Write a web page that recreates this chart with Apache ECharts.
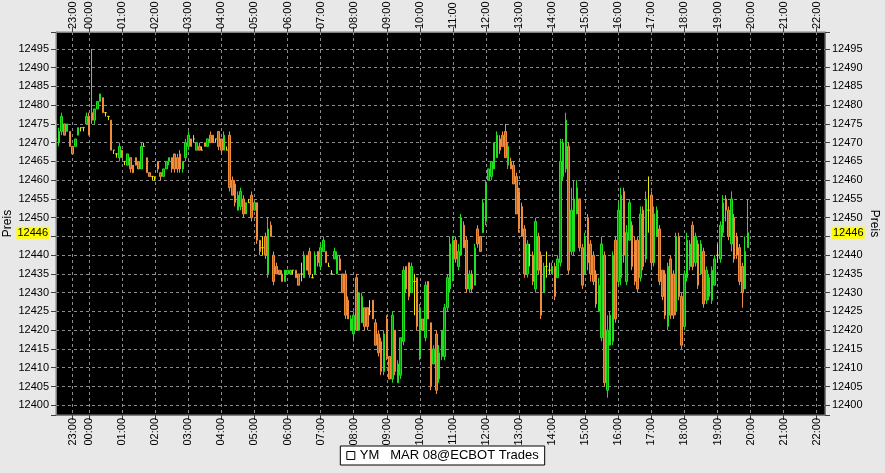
<!DOCTYPE html>
<html><head><meta charset="utf-8">
<script src="https://cdn.jsdelivr.net/npm/echarts@6/dist/echarts.min.js"></script>
<style>html,body{margin:0;padding:0;background:#e8e8e8}#c{width:885px;height:473px}</style>
</head><body><div id="c"></div>
<script>
const seriesName = 'YM   MAR 08@ECBOT Trades';
const axisName = 'Preis';
const lastPrice = 12446;
const hiddenTick = 12445;
const leadTimes = ['22:30','22:35','22:40','22:45','22:50','22:55','23:00'];
const gapTimes = ['23:10','23:20','23:30','23:40','23:50'];
const dayStart = '00:00', dayEnd = '22:15', stepMin = 5;

const opens = [
12471,12470,12473,12475,12473,12473,12469,12469,12472,12474,
12474,12475,12477,12478,12476,12479,12481,12482,12478,12477,
12476,12468,12467,12466,12468,12465,12464,12466,12464,12466,
12465,12463,12469,12466,12462,12461,12460,12465,12462,12461,
12463,12465,12466,12467,12466,12467,12463,12466,12469,12471,
12471,12468,12469,12468,12470,12469,12472,12472,12471,12473,
12471,12468,12468,12472,12460,12459,12452,12453,12455,12451,
12454,12456,12452,12454,12444,12442,12445,12435,12448,12440,
12437,12436,12435,12433,12435,12435,12436,12436,12435,12435,
12434,12440,12441,12434,12435,12441,12437,12441,12441,12437,
12435,12439,12435,12439,12435,12435,12428,12420,12419,12434,
12420,12422,12426,12426,12425,12428,12422,12419,12417,12409,
12423,12413,12407,12420,12406,12408,12417,12437,12438,12430,
12433,12434,12413,12423,12418,12433,12422,12411,12419,12407,
12413,12413,12426,12431,12434,12444,12437,12440,12448,12444,
12431,12435,12432,12447,12445,12446,12449,12460,12461,12463,
12466,12471,12472,12473,12464,12465,12464,12461,12457,12453,
12447,12435,12440,12440,12431,12445,12440,12430,12437,12436,
12435,12437,12434,12438,12461,12463,12469,12441,12441,12451,
12455,12442,12435,12450,12443,12440,12435,12425,12418,12440,
12404,12416,12417,12444,12433,12434,12457,12433,12444,12448,
12444,12444,12434,12452,12439,12452,12456,12438,12445,12447,
12436,12435,12421,12439,12435,12425,12445,12429,12421,12434,
12437,12448,12438,12443,12435,12441,12428,12429,12428,12432,
12440,12439,12446,12455,12452,12443,12450,12445,12442,12437,
12431,12442];
const closes = [
12471,12473,12477,12472,12475,12469,12467,12471,12474,12474,
12474,12477,12472,12476,12479,12481,12483,12478,12478,12477,
12468,12468,12467,12469,12466,12465,12467,12463,12462,12464,
12463,12469,12469,12462,12461,12461,12460,12463,12461,12463,
12465,12466,12463,12463,12463,12463,12465,12470,12472,12469,
12471,12470,12468,12468,12469,12471,12470,12470,12471,12469,
12468,12472,12468,12458,12456,12454,12456,12457,12451,12454,
12454,12450,12454,12444,12441,12442,12440,12447,12445,12433,
12435,12435,12433,12436,12436,12436,12436,12434,12432,12435,
12440,12436,12435,12434,12440,12438,12442,12444,12438,12437,
12435,12441,12440,12436,12430,12424,12423,12423,12424,12420,
12430,12429,12421,12421,12425,12423,12416,12414,12409,12419,
12413,12407,12424,12409,12411,12418,12436,12431,12429,12437,
12433,12421,12426,12420,12432,12423,12405,12415,12404,12414,
12420,12426,12434,12443,12444,12439,12441,12450,12442,12431,
12435,12431,12442,12443,12441,12454,12459,12463,12465,12470,
12472,12468,12469,12466,12469,12463,12459,12451,12447,12445,
12435,12443,12440,12433,12449,12436,12424,12437,12437,12436,
12437,12429,12439,12465,12470,12476,12436,12452,12455,12458,
12442,12432,12445,12438,12435,12433,12427,12432,12443,12406,
12420,12424,12440,12423,12452,12456,12440,12446,12454,12437,
12433,12431,12451,12437,12455,12452,12438,12451,12452,12433,
12429,12424,12437,12424,12424,12445,12429,12416,12435,12444,
12443,12437,12445,12432,12443,12427,12436,12434,12436,12439,
12440,12448,12454,12452,12445,12455,12439,12440,12433,12430,
12441,12446];
const lows = [
12465,12469,12472,12472,12473,12469,12467,12469,12472,12473,
12473,12475,12472,12475,12475,12479,12481,12478,12477,12476,
12468,12467,12466,12465,12466,12464,12464,12462,12462,12464,
12463,12463,12469,12462,12461,12460,12460,12462,12460,12461,
12463,12464,12462,12462,12462,12462,12462,12465,12468,12469,
12470,12468,12468,12468,12469,12469,12470,12470,12470,12468,
12467,12468,12468,12457,12456,12453,12452,12452,12450,12451,
12454,12449,12452,12443,12440,12440,12439,12434,12445,12432,
12435,12435,12433,12433,12435,12435,12435,12434,12432,12433,
12434,12436,12434,12434,12435,12437,12436,12441,12438,12437,
12435,12439,12435,12436,12430,12423,12423,12420,12417,12420,
12420,12422,12420,12420,12424,12423,12416,12413,12408,12408,
12412,12407,12406,12408,12406,12407,12416,12430,12428,12430,
12424,12420,12412,12420,12417,12423,12404,12411,12403,12406,
12412,12412,12425,12430,12433,12438,12436,12440,12442,12430,
12430,12430,12432,12442,12441,12446,12448,12460,12460,12463,
12466,12467,12469,12466,12463,12463,12459,12451,12446,12445,
12434,12434,12437,12432,12430,12435,12423,12430,12434,12435,
12435,12428,12434,12437,12460,12462,12435,12440,12440,12451,
12441,12431,12435,12436,12433,12432,12426,12425,12417,12405,
12402,12416,12416,12422,12432,12432,12438,12432,12444,12436,
12432,12430,12433,12436,12438,12446,12436,12437,12445,12432,
12428,12423,12420,12423,12423,12424,12428,12415,12420,12433,
12436,12436,12437,12431,12435,12426,12427,12428,12427,12432,
12438,12438,12445,12449,12444,12441,12438,12439,12432,12426,
12431,12442];
const highs = [
12476,12474,12478,12475,12475,12473,12469,12471,12474,12474,
12474,12478,12478,12495,12479,12481,12483,12482,12478,12477,
12476,12468,12467,12470,12468,12465,12467,12466,12464,12466,
12465,12470,12470,12466,12462,12461,12461,12465,12462,12463,
12465,12466,12466,12467,12467,12468,12465,12471,12473,12471,
12472,12470,12470,12469,12470,12471,12473,12472,12471,12473,
12471,12473,12469,12473,12461,12460,12457,12458,12456,12454,
12455,12457,12454,12454,12444,12445,12446,12450,12449,12441,
12438,12436,12436,12436,12436,12436,12436,12436,12435,12438,
12441,12440,12442,12435,12441,12441,12443,12445,12441,12438,
12436,12442,12441,12440,12435,12436,12429,12424,12425,12435,
12430,12430,12426,12426,12428,12428,12423,12420,12418,12420,
12424,12413,12425,12420,12412,12418,12437,12437,12438,12438,
12435,12434,12427,12423,12433,12433,12422,12416,12420,12416,
12420,12427,12435,12445,12445,12445,12443,12451,12449,12445,
12436,12436,12443,12448,12445,12455,12460,12463,12465,12470,
12473,12472,12473,12475,12470,12466,12465,12462,12458,12454,
12448,12444,12443,12441,12450,12446,12441,12438,12441,12438,
12438,12438,12440,12471,12471,12478,12470,12458,12460,12460,
12455,12443,12446,12451,12444,12441,12436,12434,12445,12441,
12424,12425,12441,12445,12454,12458,12458,12448,12455,12449,
12445,12445,12453,12453,12457,12461,12457,12453,12453,12448,
12436,12436,12438,12440,12436,12446,12446,12430,12436,12446,
12444,12449,12446,12444,12444,12442,12437,12435,12437,12440,
12443,12449,12456,12456,12453,12457,12451,12446,12443,12438,
12445,12455];

// time-slot categories (5-minute bars, sparse before midnight)
function toMin(t){const p=t.split(':');return +p[0]*60 + +p[1];}
function toStr(m){const h=Math.floor(m/60),mm=m%60;return (h<10?'0':'')+h+':'+(mm<10?'0':'')+mm;}
const categories = leadTimes.concat(gapTimes);
for (let m = toMin(dayStart); m <= toMin(dayEnd); m += stepMin) categories.push(toStr(m));

const candles = opens.map((o, i) => [o, closes[i], lows[i], highs[i]]);
const isHour = (idx, val) => val.slice(3) === '00';

const font = 'Liberation Sans, Arial, sans-serif';
const yLabelFmt = v => (Math.abs(v % 5) > 1e-6 || v === hiddenTick) ? '' : String(v);
const yMin = 12397.4, yMax = 12499.5;

function yAxisCfg(pos) {
  return {
    type: 'value', position: pos, min: yMin, max: yMax, scale: true,
    splitNumber: 20, minInterval: 5, maxInterval: 5,
    name: axisName, nameLocation: 'middle', nameGap: pos === 'left' ? 42 : 43,
    nameMoveOverlap: false,
    nameRotate: pos === 'left' ? 90 : -90,
    nameTextStyle: { color: '#000', fontSize: 12, fontFamily: font },
    axisLine: { show: true, lineStyle: { color: '#808080' } },
    axisTick: { show: true, length: 5, lineStyle: { color: '#404040' } },
    axisLabel: { color: '#000', fontSize: 11, fontFamily: font, margin: 7, formatter: yLabelFmt },
    splitLine: { show: pos === 'left', lineStyle: { color: '#8c8c8c', type: [3, 3], width: 1 } }
  };
}
function xAxisCfg(pos) {
  return {
    type: 'category', position: pos, data: categories, boundaryGap: false,
    axisLine: { show: true, lineStyle: { color: '#808080' } },
    axisTick: { show: true, interval: isHour, length: 5, lineStyle: { color: '#404040' } },
    axisLabel: { interval: isHour, rotate: pos === 'bottom' ? 90 : -90, margin: 3,
      color: '#000', fontSize: 11, fontFamily: font },
    splitLine: { show: pos === 'bottom', interval: isHour,
      lineStyle: { color: '#8c8c8c', type: [3, 3], width: 1 } }
  };
}

const chart = echarts.init(document.getElementById('c'), null, { renderer: 'canvas' });
chart.setOption({
  backgroundColor: '#e8e8e8',
  animation: false,
  grid: { left: 56, right: 60, top: 32, bottom: 58, show: true, containLabel: false,
    outerBoundsMode: 'none',
    backgroundColor: '#000', borderColor: '#808080', borderWidth: 1 },
  legend: {
    top: 446, left: 'center',
    data: [{ name: seriesName, icon: 'rect', itemStyle: { color: '#fff', borderColor: '#000', borderWidth: 1 } }],
    itemWidth: 8, itemHeight: 8, itemGap: 6,
    backgroundColor: '#fff', borderColor: '#000', borderWidth: 1, borderRadius: 0,
    padding: [3, 6, 3, 6],
    textStyle: { color: '#000', fontSize: 13, fontFamily: font }
  },
  xAxis: [xAxisCfg('bottom'), xAxisCfg('top')],
  yAxis: [yAxisCfg('left'), yAxisCfg('right')],
  series: [{
    name: seriesName, type: 'candlestick', data: candles, clip: false,
    xAxisIndex: 0, yAxisIndex: 0, barWidth: 2,
    itemStyle: {
      color: '#00a000', color0: '#b8621e',
      borderColor: '#1ee01e', borderColor0: '#f08c3c',
      borderColorDoji: '#e8e800', borderWidth: 1
    },
    markLine: {
      silent: true, symbol: 'none', precision: 0,
      lineStyle: { color: 'rgba(0,0,0,0)', width: 1 },
      label: { show: true, formatter: String(lastPrice), color: '#000', fontSize: 11,
        fontFamily: font, backgroundColor: '#ffff00', padding: [1, 1, 0, 1], distance: 7 },
      data: [
        { yAxis: lastPrice, label: { position: 'start' } },
        { yAxis: lastPrice, label: { position: 'end' } }
      ]
    }
  }]
});
</script></body></html>
